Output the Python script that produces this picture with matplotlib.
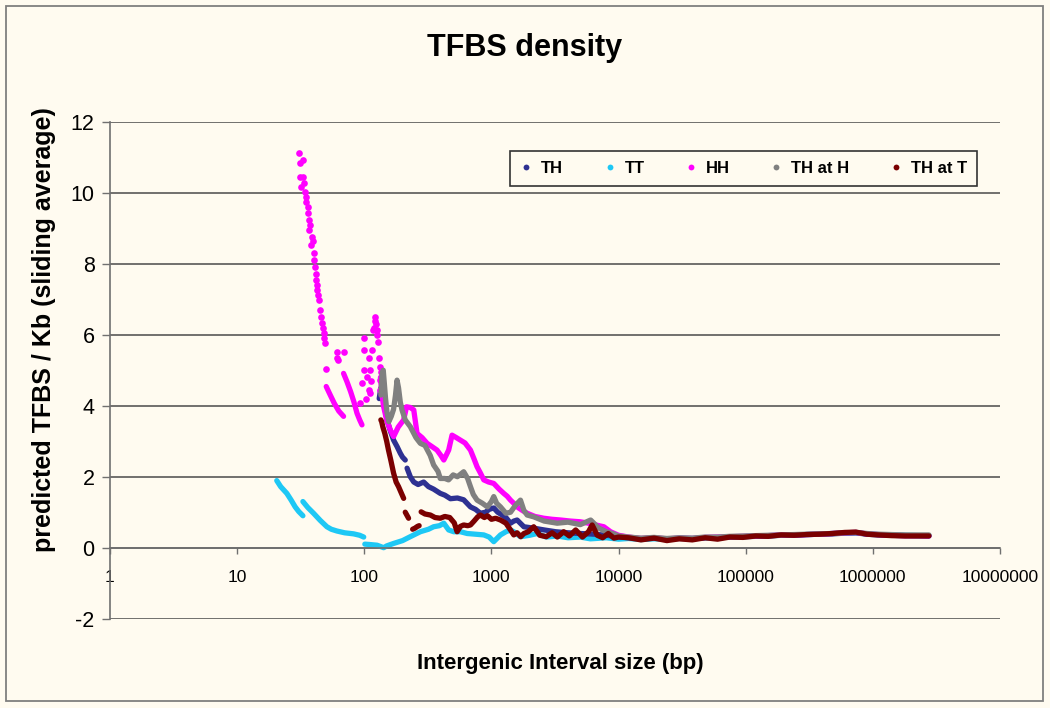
import numpy as np
import matplotlib
matplotlib.use('Agg')
import matplotlib.pyplot as plt
from matplotlib.lines import Line2D
from matplotlib.patches import Rectangle
from matplotlib.ticker import NullLocator

plt.rcParams['axes.unicode_minus'] = False
FAM = ['Liberation Sans', 'DejaVu Sans']
plt.rcParams['font.family'] = FAM

nan = np.nan
BG = '#FFFBF0'

# ---------------- data ----------------
series_names = ['TH', 'TT', 'HH', 'TH at H', 'TH at T']
series_colors = ['#2E3192', '#1EC8F5', '#FF00FF', '#808080', '#7A0000']

xtick_vals = [1, 10, 100, 1000, 10000, 100000, 1000000, 10000000]
xtick_labels = ['1', '10', '100', '1000', '10000', '100000', '1000000', '10000000']
ytick_vals = [-2, 0, 2, 4, 6, 8, 10, 12]
ytick_labels = ['-2', '0', '2', '4', '6', '8', '10', '12']

# common tail x positions (> 10 kb)
tail_x = [12000, 15000, 19000, 24000, 30000, 38000, 48000, 60000, 75000, 95000,
          120000, 150000, 190000, 240000, 300000, 380000, 480000, 600000, 735000,
          900000, 1100000, 1400000, 1800000, 2300000, 2760000]

# TT
tt_x = [20.5, 22, 24.6, 26.5, 28.6, 30.5, 32.9, nan,
        32.9, 36, 39.9, 45, 50.8, 55, 60.9, 70, 82.4, 92, 99, nan,
        101, 110, 126, 135, 142, 150, 170, 200, 230, 276, 320, 351, 390, 422, 440,
        461, 505, 570, 644, 750, 871, 960, 1043, 1178, 1300, 1413, 1500, 1692,
        2000, 2290, 2700, 3300, 4000, 5000, 6000, 8000, 10000]
tt_y = [1.89, 1.72, 1.53, 1.35, 1.15, 1.02, 0.90, nan,
        1.30, 1.13, 0.97, 0.77, 0.59, 0.52, 0.47, 0.42, 0.39, 0.35, 0.30, nan,
        0.10, 0.09, 0.07, 0.03, 0.00, 0.05, 0.12, 0.20, 0.31, 0.45, 0.52, 0.59,
        0.62, 0.69, 0.60, 0.50, 0.45, 0.45, 0.40, 0.38, 0.36, 0.30, 0.17, 0.36,
        0.45, 0.50, 0.45, 0.31, 0.35, 0.40, 0.30, 0.33, 0.28, 0.30, 0.25, 0.28, 0.24]
tt_tail = [0.26, 0.23, 0.25, 0.24, 0.27, 0.26, 0.28, 0.29, 0.30, 0.31, 0.33, 0.34,
           0.35, 0.36, 0.37, 0.38, 0.40, 0.41, 0.42, 0.39, 0.37, 0.36, 0.35, 0.34, 0.33]

# TH
th_x = [131, 135, 138, 142, 146, 151, 160, 170, 181, 192, 200, 210, nan,
        217, 230, 245, 265, 293, 320, 351, 396, 430, 476, 540, 605, 684, 750, 819,
        900, 960, 1043, 1120, 1178, 1300, 1413, 1500, 1592, 1800, 2150, 2600, 3200,
        4000, 5000, 6500, 8000, 10000]
th_y = [4.2, 4.5, 4.35, 4.1, 3.88, 3.6, 3.3, 3.03, 2.85, 2.66, 2.55, 2.47, nan,
        2.24, 2.0, 1.85, 1.78, 1.85, 1.72, 1.65, 1.53, 1.48, 1.38, 1.40, 1.35, 1.15,
        1.08, 0.97, 1.0, 1.08, 1.12, 1.0, 0.95, 0.85, 0.69, 0.75, 0.78, 0.59, 0.55,
        0.50, 0.45, 0.42, 0.40, 0.38, 0.35, 0.31]
th_tail = [0.28, 0.25, 0.27, 0.24, 0.26, 0.25, 0.28, 0.28, 0.30, 0.31, 0.32, 0.33,
           0.35, 0.35, 0.37, 0.38, 0.39, 0.41, 0.42, 0.38, 0.36, 0.35, 0.34, 0.34, 0.34]

# HH: sparse dots at short intervals
hh_dot_x = [30.4, 31.0, 32.7, 31.5, 33.1, 33.5, 31.8, 34.3, 35.0, 34.6, 36.4, 36.0,
            36.8, 37.0, 37.6, 38.7, 38.2, 39.2, 39.9, 40.5, 41.1, 41.6, 42.0, 42.4,
            42.8, 43.5, 44.2, 44.8, 45.4, 46.4, 47.0, 47.8, 48.5, 49.3, 50.2,
            61.0, 68.7, 61.8, 60.5,
            98.8, 100, 115, 108.6, 98.8, 111, 105, 95.9, 111, 131, 129, 122, 118, 126,
            121, 124, 119, 127, 103, 93, 108, 113, 134, 134, 134, 136, 137]
hh_dot_y = [11.13, 10.83, 10.92, 10.45, 10.45, 10.26, 10.17, 10.03, 9.89, 9.75, 9.61,
            9.42, 9.23, 8.95, 9.10, 8.76, 8.53, 8.65, 8.29, 8.10, 7.92, 7.72, 7.54,
            7.40, 7.26, 7.12, 6.98, 6.70, 6.50, 6.32, 6.18, 6.04, 5.90, 5.76, 5.03,
            5.52, 5.52, 5.29, 5.35,
            5.57, 5.90, 5.57, 5.33, 5.0, 5.0, 4.82, 4.63, 4.35, 5.33, 5.80, 6.51,
            6.13, 6.13, 6.40, 6.30, 6.20, 6.00, 4.20, 4.07, 4.45, 4.70, 5.10, 4.72,
            4.44, 4.95, 4.60]
hh_x = [50.2, 54, 58, 63, 68.7, nan,
        68.7, 73, 78, 83, 87.6, 92, 95.9, nan,
        134, 138, 142, 150, 160, 170, 185, 204, 215, 230, 245, 260, 285, 312, 340,
        373, 400, 422, 440, 461, 490, 530, 570, 620, 684, 730, 771, 820, 871, 950,
        1043, 1150, 1250, 1330, 1413, 1500, 1592, 1750, 1910, 2200, 2580, 3000, 3500,
        4190, 5000, 6000, 7000, 7660, 8650, 10000]
hh_y = [4.54, 4.30, 4.07, 3.85, 3.70, nan,
        4.91, 4.68, 4.40, 4.10, 3.79, 3.60, 3.46, nan,
        4.8, 4.3, 3.97, 3.6, 3.32, 3.13, 3.4, 3.6, 3.97, 3.95, 3.88, 3.22, 3.10,
        2.94, 2.85, 2.75, 2.60, 2.47, 2.60, 2.75, 3.17, 3.10, 3.03, 2.95, 2.75, 2.50,
        2.28, 2.10, 1.91, 1.85, 1.81, 1.65, 1.53, 1.45, 1.34, 1.25, 1.15, 1.05, 0.97,
        0.88, 0.83, 0.80, 0.78, 0.75, 0.73, 0.68, 0.62, 0.59, 0.45, 0.35]
hh_tail = [0.30, 0.26, 0.28, 0.25, 0.27, 0.26, 0.29, 0.30, 0.31, 0.32, 0.33, 0.34,
           0.36, 0.36, 0.37, 0.38, 0.40, 0.42, 0.43, 0.39, 0.37, 0.35, 0.34, 0.34, 0.33]

# TH at H
tha_x = [135, 138, 141, 144, 147, 151, 156, 163, 170, 176, 181, 186, 192, 198, 210,
         230, 255, 276, 300, 330, 351, 380, 396, 430, 460, 500, 540, 605, 650, 684,
         720, 771, 850, 930, 1000, 1043, 1100, 1178, 1300, 1413, 1550, 1692, 1800,
         1910, 2150, 2600, 3290, 4000, 5000, 6030, 7000, 8000, 9000, 10000]
tha_y = [4.3, 4.9, 5.0, 4.6, 4.2, 3.8, 3.55, 3.7, 3.9, 4.3, 4.72, 4.5, 4.1, 3.88,
         3.6, 3.41, 3.1, 2.94, 2.88, 2.6, 2.33, 2.15, 1.95, 1.95, 1.91, 2.05, 2.0,
         2.14, 1.95, 1.72, 1.5, 1.34, 1.25, 1.15, 1.3, 1.44, 1.25, 1.15, 0.97, 1.0,
         1.2, 1.34, 1.05, 0.92, 0.87, 0.75, 0.69, 0.72, 0.65, 0.78, 0.55, 0.45, 0.40,
         0.33]
tha_tail = [0.30, 0.27, 0.29, 0.26, 0.28, 0.27, 0.30, 0.30, 0.32, 0.33, 0.34, 0.35,
            0.36, 0.37, 0.38, 0.39, 0.40, 0.42, 0.43, 0.40, 0.38, 0.37, 0.36, 0.36, 0.36]

# TH at T
tht_x = [135, 137, 140, 145, 150, 155, 162, 170, 178, 186, 195, 204, nan,
         210, 216, 223, nan,
         240, 250, 262, 270, nan,
         280, 300, 331, 360, 396, 430, 470, 510, 537, 570, 605, 650, 684, 730, 780,
         819, 880, 930, 1000, 1080, 1178, 1300, 1413, 1500, 1592, 1700, 1800, 1950,
         2150, 2400, 2700, 3000, 3300, 3700, 4100, 4600, 5200, 5800, 6200, 6800, 7500,
         8300, 9200, 10000]
tht_y = [3.6, 3.55, 3.4, 3.22, 3.0, 2.75, 2.45, 2.1, 1.85, 1.72, 1.55, 1.39, nan,
         1.0, 0.92, 0.83, nan,
         0.52, 0.55, 0.60, 0.62, nan,
         1.01, 0.95, 0.92, 0.85, 0.83, 0.88, 0.85, 0.70, 0.45, 0.60, 0.64, 0.62, 0.64,
         0.75, 0.87, 0.92, 0.85, 0.90, 0.80, 0.83, 0.78, 0.69, 0.50, 0.36, 0.42, 0.31,
         0.40, 0.45, 0.59, 0.35, 0.31, 0.42, 0.30, 0.45, 0.33, 0.50, 0.30, 0.45, 0.64,
         0.35, 0.28, 0.40, 0.27, 0.30]
tht_tail = [0.28, 0.22, 0.27, 0.20, 0.25, 0.22, 0.28, 0.24, 0.30, 0.29, 0.33, 0.32,
            0.36, 0.35, 0.37, 0.38, 0.40, 0.43, 0.44, 0.38, 0.36, 0.34, 0.33, 0.33, 0.33]

# ---------------- figure ----------------
fig = plt.figure(figsize=(10.5, 7.08), dpi=100, facecolor=BG)
fig.patches.append(Rectangle((6 / 1050, 7 / 708), 1037 / 1050, 695 / 708,
                             transform=fig.transFigure, fill=False,
                             edgecolor='#7F7F7F', lw=1.3))

ax = fig.add_axes([110 / 1050, (708 - 618.7) / 708, 890 / 1050, 497 / 708])
ax.set_facecolor(BG)
ax.set_xscale('log')
ax.set_xlim(1, 1e7)
ax.set_ylim(-2, 12)

for s in ['top', 'right']:
    ax.spines[s].set_visible(False)
ax.spines['bottom'].set_position(('data', 0))
ax.spines['bottom'].set_color('#707070')
ax.spines['left'].set_color('#707070')
ax.spines['bottom'].set_linewidth(1.2)
ax.spines['left'].set_linewidth(1.2)

ax.set_xticks(xtick_vals)
ax.set_xticklabels(xtick_labels)
ax.xaxis.set_minor_locator(NullLocator())
ax.set_yticks(ytick_vals)
ax.set_yticklabels(ytick_labels)
ax.tick_params(axis='x', direction='out', length=4, width=1, color='#707070',
               pad=12, labelsize=12.5)
ax.tick_params(axis='y', direction='out', length=6, width=1, color='#707070',
               pad=5, labelsize=15.5)

ax.set_axisbelow(True)
ax.grid(axis='y', color='#4A4A4A', lw=1.1)
ax.grid(axis='x', visible=False)

lw = 3.8
def draw(x, y, tail, c, z):
    xs = list(x) + list(tail_x)
    ys = list(y) + list(tail)
    ax.plot(xs, ys, color=c, lw=lw, solid_capstyle='round',
            solid_joinstyle='round', zorder=z)

draw(th_x, th_y, th_tail, series_colors[0], 3)
draw(tt_x, tt_y, tt_tail, series_colors[1], 2)
draw(hh_x, hh_y, hh_tail, series_colors[2], 4)
ax.plot(hh_dot_x, hh_dot_y, 'o', ms=4.8, mew=0, color=series_colors[2], zorder=4)
draw(tha_x, tha_y, tha_tail, series_colors[3], 5)
draw(tht_x, tht_y, tht_tail, series_colors[4], 6)

handles = [Line2D([], [], marker='o', ls='', color=c, ms=4.2, mew=0)
           for c in series_colors]
leg = ax.legend(handles, series_names, ncol=5, loc='lower left',
                bbox_to_anchor=(0.449, 0.870, 0.525, 0.069), mode='expand',
                frameon=True, fancybox=False, edgecolor='#333333', facecolor=BG,
                framealpha=1, borderaxespad=0, borderpad=0.6, handlelength=0.8,
                handletextpad=0.5, columnspacing=1.0,
                prop={'family': FAM, 'weight': 'bold', 'size': 12})
leg.get_frame().set_linewidth(1.2)

fig.text(0.5, 1 - 48 / 708, 'TFBS density', ha='center', va='center',
         fontsize=22, fontweight='bold')
fig.text(44 / 1050, 1 - 330 / 708, 'predicted TFBS / Kb (sliding average)',
         ha='center', va='center', rotation=90, fontsize=18, fontweight='bold')
fig.text(560 / 1050, 1 - 664 / 708, 'Intergenic Interval size (bp)',
         ha='center', va='center', fontsize=16, fontweight='bold')

fig.savefig('out.png', dpi=100, facecolor=BG)
